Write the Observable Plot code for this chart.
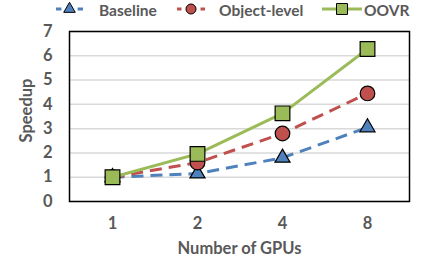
<!DOCTYPE html>
<html>
<head>
<meta charset="utf-8">
<script src="https://cdn.jsdelivr.net/npm/d3@7"></script>
<script src="https://cdn.jsdelivr.net/npm/@observablehq/plot@0.6"></script>
<style>
  body { margin: 0; background: #fff; }
  #wrap { position: relative; width: 429px; height: 262px; font-family: Lato, "Open Sans", sans-serif; font-weight: bold; color: #595959; }
  #legend { position: absolute; left: 0; top: 0; width: 429px; height: 18px; }
  #chart { position: absolute; left: 0; top: 18px; }
  .lt { position: absolute; top: 0.5px; height: 18px; line-height: 18px; font-size: 15.5px; white-space: nowrap; }
  .ls { position: absolute; top: 0; }
</style>
</head>
<body>
<div id="wrap">
  <div id="legend"></div>
  <div id="chart"></div>
</div>
<script>
const gpus = ["1", "2", "4", "8"];
const baseline = [1, 1.15, 1.8, 3.05];
const objectLevel = [1, 1.6, 2.8, 4.45];
const oovr = [1, 1.96, 3.63, 6.28];
const seriesNames = ["Baseline", "Object-level", "OOVR"];
const seriesColors = ["#4F81BD", "#C0504D", "#9BBB59"];
const seriesSymbols = ["triangle", "circle", "square"];
const seriesValues = [baseline, objectLevel, oovr];
const yTicks = [0, 1, 2, 3, 4, 5, 6, 7];
const xTitle = "Number of GPUs";
const yTitle = "Speedup";

const style = [
  {dash: "12,7", r: 5.6},
  {dash: "12,7", r: 7.3},
  {dash: null, r: 8.3}
];

const rows = seriesNames.flatMap((s, i) => gpus.map((g, j) => ({series: s, gpus: g, value: seriesValues[i][j]})));

const FS = 16.5;
const marks = [
  Plot.gridY(yTicks, {stroke: "#d9d9d9", strokeOpacity: 1, strokeWidth: 1.5}),
  Plot.frame({stroke: "#000", strokeWidth: 1.5})
];
seriesNames.forEach((s, i) => {
  const d = rows.filter(r => r.series === s);
  marks.push(Plot.line(d, {x: "gpus", y: "value", stroke: seriesColors[i], strokeWidth: 3, strokeDasharray: style[i].dash, strokeLinecap: "butt"}));
  marks.push(Plot.dot(d, {x: "gpus", y: "value", symbol: seriesSymbols[i], r: style[i].r, fill: seriesColors[i], stroke: "#000", strokeWidth: 1.2}));
});
marks.push(Plot.axisX({tickSize: 0, tickPadding: 16, fontSize: FS, label: xTitle, labelAnchor: "center", labelOffset: 52, labelArrow: "none"}));
marks.push(Plot.axisY(yTicks, {tickSize: 0, tickPadding: 17, fontSize: FS, label: null}));
marks.push(Plot.text([yTitle], {text: d => d, frameAnchor: "left", rotate: -90, dx: -43, dy: -6, fontSize: FS, fill: "#595959", textAnchor: "middle", lineAnchor: "middle"}));

const chart = Plot.plot({
  width: 429,
  height: 244,
  marginTop: 13,
  marginBottom: 61,
  marginLeft: 69,
  marginRight: 20,
  style: {fontFamily: "Lato, 'Open Sans', sans-serif", fontWeight: "bold", color: "#595959", fontSize: FS + "px", background: "#fff"},
  x: {type: "point", domain: gpus, padding: 0.5},
  y: {domain: [0, 7]},
  marks
});
document.getElementById("chart").appendChild(chart);

// legend
const legendCenter = [69, 191, 342];
const legendHalf = [13.5, 14, 20];
const legendText = [99, 219, 364];
const legendR = [3.6, 5, 5.8];
const legend = document.getElementById("legend");
seriesNames.forEach((s, i) => {
  const cx = legendCenter[i], h = legendHalf[i];
  const svg = d3.create("svg").attr("class", "ls").attr("width", 2 * h + 2).attr("height", 18)
    .style("left", (cx - h - 1) + "px");
  const mid = h + 1;
  const gap = style[i].dash ? 4.5 : 0;
  svg.append("line").attr("x1", 1).attr("x2", mid - legendR[i] - gap).attr("y1", 9).attr("y2", 9)
    .attr("stroke", seriesColors[i]).attr("stroke-width", 3);
  svg.append("line").attr("x1", mid + legendR[i] + gap).attr("x2", 2 * h + 1).attr("y1", 9).attr("y2", 9)
    .attr("stroke", seriesColors[i]).attr("stroke-width", 3);
  const sym = {triangle: d3.symbolTriangle, circle: d3.symbolCircle, square: d3.symbolSquare}[seriesSymbols[i]];
  const rr = [4.3, 5, 6.2][i];
  svg.append("path").attr("transform", `translate(${mid},9)`)
    .attr("d", d3.symbol(sym, Math.PI * rr * rr)())
    .attr("fill", seriesColors[i]).attr("stroke", "#000").attr("stroke-width", 1);
  legend.appendChild(svg.node());
  const t = document.createElement("div");
  t.className = "lt";
  t.style.left = legendText[i] + "px";
  t.textContent = s;
  legend.appendChild(t);
});
</script>
</body>
</html>
